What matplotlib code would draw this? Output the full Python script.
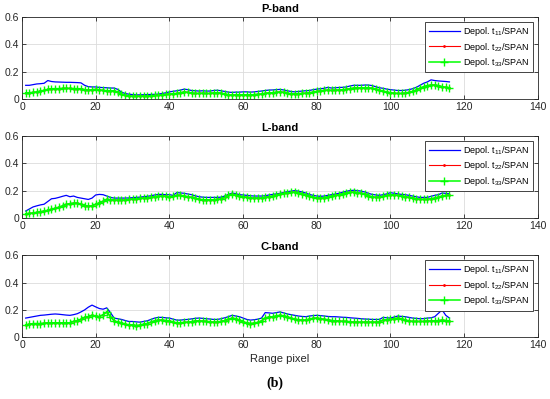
import numpy as np
import matplotlib
matplotlib.use("Agg")
import matplotlib.pyplot as plt

plt.rcParams["font.family"] = ["Liberation Sans", "DejaVu Sans"]
plt.rcParams["mathtext.default"] = "regular"

# ── data (range pixel 1..116) ────────────────────────────────────────────────
pixel = list(range(1, 117))

p_t11 = [0.100, 0.100, 0.105, 0.110, 0.112, 0.115, 0.135, 0.128, 0.125, 0.124,
         0.123, 0.122, 0.122, 0.121, 0.120, 0.118, 0.100, 0.090, 0.088, 0.088,
         0.085, 0.083, 0.082, 0.080, 0.080, 0.070, 0.050, 0.040, 0.035, 0.032,
         0.030, 0.030, 0.031, 0.032, 0.033, 0.034, 0.036, 0.040, 0.045, 0.052,
         0.056, 0.060, 0.065, 0.072, 0.068, 0.062, 0.060, 0.058, 0.060, 0.058,
         0.058, 0.062, 0.064, 0.060, 0.055, 0.050, 0.048, 0.050, 0.050, 0.052,
         0.052, 0.050, 0.052, 0.055, 0.058, 0.062, 0.065, 0.066, 0.068, 0.070,
         0.066, 0.060, 0.055, 0.052, 0.055, 0.058, 0.060, 0.062, 0.068, 0.072,
         0.075, 0.078, 0.085, 0.080, 0.082, 0.084, 0.085, 0.088, 0.095, 0.100,
         0.100, 0.100, 0.102, 0.102, 0.098, 0.090, 0.082, 0.078, 0.072, 0.068,
         0.065, 0.062, 0.062, 0.064, 0.068, 0.075, 0.085, 0.100, 0.115, 0.125,
         0.140, 0.135, 0.132, 0.130, 0.128, 0.125]
p_t33 = [0.045, 0.045, 0.048, 0.052, 0.058, 0.062, 0.070, 0.075, 0.076, 0.076,
         0.077, 0.077, 0.077, 0.076, 0.076, 0.075, 0.068, 0.064, 0.068, 0.070,
         0.066, 0.062, 0.060, 0.060, 0.060, 0.050, 0.035, 0.028, 0.022, 0.020,
         0.020, 0.020, 0.022, 0.022, 0.024, 0.026, 0.027, 0.030, 0.033, 0.036,
         0.038, 0.040, 0.045, 0.052, 0.048, 0.042, 0.040, 0.040, 0.042, 0.040,
         0.040, 0.044, 0.046, 0.042, 0.036, 0.030, 0.028, 0.030, 0.030, 0.030,
         0.030, 0.030, 0.032, 0.034, 0.036, 0.040, 0.045, 0.046, 0.048, 0.052,
         0.048, 0.042, 0.038, 0.036, 0.038, 0.040, 0.042, 0.045, 0.050, 0.055,
         0.058, 0.062, 0.065, 0.062, 0.064, 0.066, 0.068, 0.070, 0.075, 0.080,
         0.080, 0.082, 0.082, 0.082, 0.078, 0.070, 0.062, 0.056, 0.050, 0.045,
         0.042, 0.040, 0.040, 0.042, 0.048, 0.055, 0.065, 0.078, 0.090, 0.098,
         0.102, 0.102, 0.098, 0.090, 0.085, 0.082]

l_t11 = [0.050, 0.065, 0.080, 0.088, 0.095, 0.100, 0.120, 0.140, 0.143, 0.150,
         0.158, 0.165, 0.155, 0.160, 0.150, 0.145, 0.140, 0.135, 0.145, 0.168,
         0.172, 0.170, 0.160, 0.150, 0.145, 0.145, 0.145, 0.145, 0.146, 0.148,
         0.150, 0.152, 0.155, 0.158, 0.162, 0.168, 0.172, 0.172, 0.170, 0.170,
         0.165, 0.185, 0.183, 0.180, 0.175, 0.170, 0.162, 0.155, 0.152, 0.150,
         0.150, 0.150, 0.150, 0.152, 0.160, 0.172, 0.182, 0.178, 0.170, 0.168,
         0.165, 0.162, 0.160, 0.160, 0.160, 0.162, 0.168, 0.172, 0.176, 0.180,
         0.186, 0.192, 0.196, 0.200, 0.196, 0.190, 0.182, 0.172, 0.165, 0.160,
         0.158, 0.160, 0.165, 0.170, 0.175, 0.180, 0.188, 0.195, 0.200, 0.202,
         0.200, 0.196, 0.190, 0.180, 0.172, 0.168, 0.165, 0.170, 0.176, 0.185,
         0.180, 0.176, 0.172, 0.170, 0.165, 0.160, 0.155, 0.150, 0.150, 0.150,
         0.158, 0.165, 0.170, 0.182, 0.180, 0.176]
l_t33 = [0.030, 0.032, 0.036, 0.040, 0.045, 0.050, 0.055, 0.062, 0.070, 0.078,
         0.088, 0.098, 0.105, 0.108, 0.108, 0.100, 0.090, 0.085, 0.088, 0.100,
         0.110, 0.120, 0.135, 0.132, 0.130, 0.130, 0.130, 0.130, 0.135, 0.138,
         0.140, 0.142, 0.145, 0.148, 0.150, 0.155, 0.158, 0.160, 0.158, 0.152,
         0.158, 0.165, 0.165, 0.160, 0.155, 0.150, 0.142, 0.135, 0.133, 0.132,
         0.132, 0.133, 0.135, 0.138, 0.150, 0.165, 0.175, 0.168, 0.160, 0.155,
         0.150, 0.145, 0.145, 0.145, 0.145, 0.150, 0.155, 0.160, 0.168, 0.175,
         0.180, 0.185, 0.186, 0.188, 0.185, 0.178, 0.170, 0.160, 0.150, 0.146,
         0.145, 0.148, 0.155, 0.160, 0.165, 0.170, 0.178, 0.185, 0.188, 0.188,
         0.185, 0.180, 0.172, 0.162, 0.155, 0.150, 0.152, 0.158, 0.164, 0.170,
         0.168, 0.165, 0.160, 0.155, 0.150, 0.145, 0.140, 0.136, 0.135, 0.135,
         0.140, 0.145, 0.152, 0.160, 0.165, 0.165]

c_t11 = [0.140, 0.145, 0.150, 0.155, 0.160, 0.162, 0.165, 0.168, 0.170, 0.168,
         0.165, 0.162, 0.160, 0.165, 0.172, 0.185, 0.200, 0.220, 0.235, 0.222,
         0.210, 0.205, 0.215, 0.180, 0.140, 0.135, 0.130, 0.122, 0.115, 0.115,
         0.112, 0.110, 0.115, 0.120, 0.130, 0.140, 0.145, 0.145, 0.142, 0.140,
         0.132, 0.125, 0.125, 0.128, 0.130, 0.134, 0.138, 0.140, 0.138, 0.135,
         0.133, 0.130, 0.130, 0.135, 0.142, 0.150, 0.160, 0.155, 0.150, 0.140,
         0.130, 0.125, 0.128, 0.132, 0.140, 0.180, 0.178, 0.175, 0.180, 0.185,
         0.178, 0.170, 0.165, 0.160, 0.155, 0.152, 0.150, 0.155, 0.158, 0.160,
         0.158, 0.155, 0.152, 0.150, 0.150, 0.148, 0.146, 0.145, 0.142, 0.140,
         0.138, 0.135, 0.133, 0.132, 0.130, 0.130, 0.130, 0.145, 0.142, 0.140,
         0.148, 0.155, 0.152, 0.150, 0.145, 0.140, 0.138, 0.135, 0.136, 0.140,
         0.142, 0.150, 0.175, 0.200, 0.160, 0.140]
c_t33 = [0.090, 0.095, 0.100, 0.100, 0.100, 0.102, 0.105, 0.105, 0.105, 0.105,
         0.105, 0.105, 0.106, 0.115, 0.120, 0.130, 0.145, 0.150, 0.160, 0.155,
         0.150, 0.165, 0.185, 0.150, 0.120, 0.110, 0.105, 0.095, 0.090, 0.090,
         0.085, 0.088, 0.095, 0.100, 0.110, 0.120, 0.125, 0.125, 0.122, 0.120,
         0.110, 0.105, 0.105, 0.108, 0.110, 0.114, 0.118, 0.120, 0.118, 0.115,
         0.113, 0.110, 0.110, 0.115, 0.122, 0.130, 0.140, 0.135, 0.125, 0.112,
         0.105, 0.100, 0.103, 0.108, 0.120, 0.140, 0.148, 0.150, 0.155, 0.160,
         0.155, 0.150, 0.140, 0.130, 0.128, 0.125, 0.125, 0.132, 0.138, 0.140,
         0.135, 0.130, 0.128, 0.122, 0.120, 0.118, 0.116, 0.115, 0.113, 0.110,
         0.110, 0.110, 0.110, 0.110, 0.110, 0.110, 0.112, 0.125, 0.128, 0.130,
         0.135, 0.140, 0.135, 0.125, 0.120, 0.115, 0.115, 0.115, 0.115, 0.118,
         0.118, 0.120, 0.122, 0.125, 0.122, 0.120]

# t22 is practically identical to t33 (red hidden under green)
p_t22 = p_t33
l_t22 = l_t33
c_t22 = c_t33

bands = ["P-band", "L-band", "C-band"]
series = [(p_t11, p_t22, p_t33), (l_t11, l_t22, l_t33), (c_t11, c_t22, c_t33)]
labels = ["Depol. t$_{11}$/SPAN", "Depol. t$_{22}$/SPAN", "Depol. t$_{33}$/SPAN"]

# ── figure ───────────────────────────────────────────────────────────────────
fig = plt.figure(figsize=(5.5, 3.99), dpi=100)
bottoms = [0.752, 0.454, 0.155]
txt = "#262626"

for i, (band, (s11, s22, s33)) in enumerate(zip(bands, series)):
    ax = fig.add_axes([0.04, bottoms[i], 0.938, 0.205])
    ax.plot(pixel, s11, color="#0000ff", lw=0.9, label=labels[0])
    ax.plot(pixel, s22, color="#ff0000", lw=0.8, marker=".", ms=2, label=labels[1])
    ax.plot(pixel, s33, color="#00ff00", lw=1.1, marker="+", ms=6, mew=1.0, label=labels[2])
    ax.set_xlim(0, 140); ax.set_ylim(0, 0.6)
    ax.set_xticks(range(0, 141, 20)); ax.set_yticks([0, 0.2, 0.4, 0.6])
    ax.set_yticklabels(["0", "0.2", "0.4", "0.6"])
    ax.grid(True, color="#dcdcdc", lw=0.6)
    ax.set_axisbelow(True)
    ax.tick_params(direction="in", top=True, right=True, labelsize=7.5,
                   colors=txt, length=3, width=0.6, pad=2)
    for sp in ax.spines.values():
        sp.set_color("#262626"); sp.set_linewidth(0.6)
    ax.set_title(band, fontsize=8, fontweight="bold", pad=4, color="black")
    leg = ax.legend(loc="upper right", fontsize=6.5, handlelength=3.4,
                    fancybox=False, edgecolor="#262626", framealpha=1,
                    borderaxespad=0.5, labelspacing=0.25, handletextpad=0.4,
                    borderpad=0.4)
    leg.get_frame().set_linewidth(0.6)
    if i == 2:
        ax.set_xlabel("Range pixel", fontsize=8, color=txt, labelpad=3)

fig.text(0.5, 0.04, "(b)", ha="center", va="center", fontsize=10,
         fontweight="bold", family=["Liberation Serif", "DejaVu Serif"])

plt.savefig("out.png", dpi=100)
